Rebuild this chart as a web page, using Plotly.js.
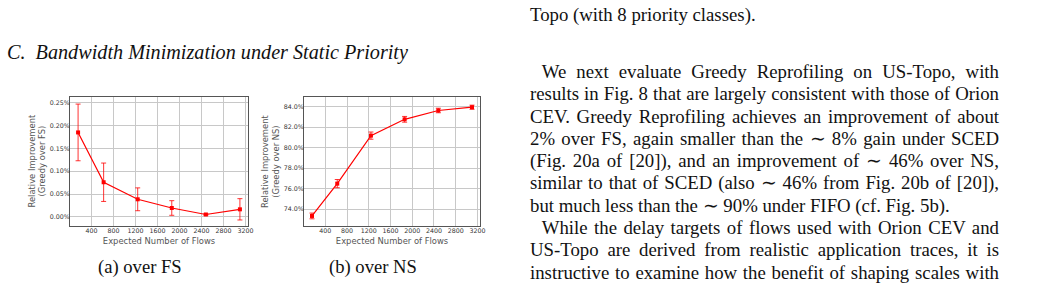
<!DOCTYPE html>
<html>
<head>
<meta charset="utf-8">
<script src="https://cdn.plot.ly/plotly-3.0.1.min.js"></script>
<style>
  html, body { margin: 0; padding: 0; background: #fff; }
  #page { position: relative; width: 1040px; height: 293px; overflow: hidden; }
  #chart { position: absolute; left: 0; top: 0; width: 1040px; height: 293px; }
  .ln { position: absolute; font-family: "Liberation Serif", "Times New Roman", serif; font-size: 18.8px;
        line-height: 22px; color: #111; white-space: nowrap; }
</style>
</head>
<body>
<div id="page">
  <div id="chart"></div>
</div>
<script>
// ---- data ----
const flows = [155, 620, 1240, 1860, 2480, 3100];
const fsImprovement = [0.185, 0.076, 0.0387, 0.0197, 0.0055, 0.0168];   // percent
const fsError = [0.062, 0.042, 0.025, 0.016, 0.0015, 0.0233];
const nsImprovement = [73.35, 76.5, 81.18, 82.77, 83.63, 83.95];      // percent
const nsError = [0.28, 0.4, 0.35, 0.28, 0.22, 0.2];
const xTicks = [400, 800, 1200, 1600, 2000, 2400, 2800, 3200];
const fsTicks = [0, 0.05, 0.10, 0.15, 0.20, 0.25];
const nsTicks = [74, 76, 78, 80, 82, 84];
const fsTickText = ["0.00%", "0.05%", "0.10%", "0.15%", "0.20%", "0.25%"];
const nsTickText = ["74.0%", "76.0%", "78.0%", "80.0%", "82.0%", "84.0%"];
const xTitle = "Expected Number of Flows";
const yTitleA = "Relative Improvement<br>(Greedy over FS)";
const yTitleB = "Relative Improvement<br>(Greedy over NS)";

// ---- page text ----
const heading = "C.\u2002Bandwidth Minimization under Static Priority";
const captionA = "(a) over FS";
const captionB = "(b) over NS";
const topLine = "Topo (with 8 priority classes).";
const paraLines = [
  "We next evaluate Greedy Reprofiling on US-Topo, with",
  "results in Fig. 8 that are largely consistent with those of Orion",
  "CEV. Greedy Reprofiling achieves an improvement of about",
  "2% over FS, again smaller than the \u223C 8% gain under SCED",
  "(Fig. 20a of [20]), and an improvement of \u223C 46% over NS,",
  "similar to that of SCED (also \u223C 46% from Fig. 20b of [20]),",
  "but much less than the \u223C 90% under FIFO (cf. Fig. 5b).",
  "While the delay targets of flows used with Orion CEV and",
  "US-Topo are derived from realistic application traces, it is",
  "instructive to examine how the benefit of shaping scales with"
];
const paraJustify = [true, true, true, true, true, true, false, true, true, true];
const paraIndent = [true, false, false, false, false, false, false, true, false, false];

// ---- chart ----
const RED = "#ff0000";
const W = 1040, H = 293;
const fx = p => p / W;
const fy = p => 1 - p / H;

function series(y, err, xa, ya) {
  return {
    x: flows, y: y, xaxis: xa, yaxis: ya, type: "scatter", mode: "lines+markers",
    line: {color: RED, width: 1.2},
    marker: {symbol: "square", size: 4, color: RED},
    error_y: {type: "data", array: err, visible: true, color: "rgba(255,0,0,0.8)", thickness: 1, width: 2.5},
    showlegend: false, hoverinfo: "skip"
  };
}

const tickFont = {family: "DejaVu Sans", size: 6.3, color: "#333"};
const titleFont = {family: "DejaVu Sans", size: 8.4, color: "#555"};

function xAxis(dom, anchor) {
  return {
    domain: dom, anchor: anchor, range: [8, 3247],
    tickmode: "array", tickvals: xTicks, ticktext: xTicks.map(String),
    tickfont: tickFont, ticks: "", ticklabelstandoff: -2,
    showgrid: true, gridcolor: "#c8c8c8", gridwidth: 1, zeroline: false,
    showline: true, mirror: true, linecolor: "#555", linewidth: 1,
    title: {text: xTitle, font: titleFont, standoff: 5},
    automargin: false
  };
}
function yAxis(range, ticks, labels, anchor) {
  return {
    domain: [fy(226), fy(97)], anchor: anchor, range: range,
    tickmode: "array", tickvals: ticks, ticktext: labels, tickfont: tickFont, ticks: "",
    ticklabelstandoff: -2,
    showgrid: true, gridcolor: "#c8c8c8", gridwidth: 1, zeroline: false,
    showline: true, mirror: true, linecolor: "#555", linewidth: 1,
    automargin: false
  };
}

const layout = {
  width: W, height: H, margin: {l: 0, r: 0, t: 0, b: 0},
  paper_bgcolor: "#fff", plot_bgcolor: "#fff",
  xaxis: xAxis([fx(70), fx(248)], "y"),
  yaxis: yAxis([-0.0197, 0.2625], fsTicks, fsTickText, "x"),
  xaxis2: xAxis([fx(304), fx(480)], "y2"),
  yaxis2: yAxis([72.37, 84.945], nsTicks, nsTickText, "x2"),
  annotations: [
    {text: yTitleA, xref: "paper", yref: "paper", x: fx(37), y: fy(161.5), showarrow: false,
     textangle: -90, xanchor: "center", yanchor: "middle", font: titleFont},
    {text: yTitleB, xref: "paper", yref: "paper", x: fx(270.5), y: fy(161.5), showarrow: false,
     textangle: -90, xanchor: "center", yanchor: "middle", font: titleFont},
    {text: captionA, xref: "paper", yref: "paper", x: fx(140), y: fy(267), showarrow: false,
     xanchor: "center", yanchor: "middle", font: {family: "Liberation Serif", size: 18.6, color: "#111"}},
    {text: captionB, xref: "paper", yref: "paper", x: fx(372.5), y: fy(267), showarrow: false,
     xanchor: "center", yanchor: "middle", font: {family: "Liberation Serif", size: 18.6, color: "#111"}}
  ]
};

Plotly.newPlot("chart", [
  series(fsImprovement, fsError, "x", "y"),
  series(nsImprovement, nsError, "x2", "y2")
], layout, {staticPlot: true, displayModeBar: false});

// ---- text overlay ----
const page = document.getElementById("page");
function addLine(text, left, centerY, right, justify, italic, size) {
  const d = document.createElement("div");
  d.className = "ln";
  d.textContent = text;
  d.style.left = left + "px";
  d.style.top = (centerY - 11.7) + "px";
  if (size) d.style.fontSize = size + "px";
  if (italic) d.style.fontStyle = "italic";
  page.appendChild(d);
  if (justify) {
    const natural = d.getBoundingClientRect().width;
    const spaces = (text.match(/ /g) || []).length;
    if (spaces > 0) d.style.wordSpacing = ((right - left - natural) / spaces) + "px";
  }
}
addLine(heading, 7, 53, 0, false, true, 20.2);
addLine(topLine, 530, 15.5, 999, false, false);
paraLines.forEach((t, i) => {
  const left = paraIndent[i] ? 541.7 : 530;
  addLine(t, left, 72.7 + i * 22.29, 999, paraJustify[i], false);
});
</script>
</body>
</html>
